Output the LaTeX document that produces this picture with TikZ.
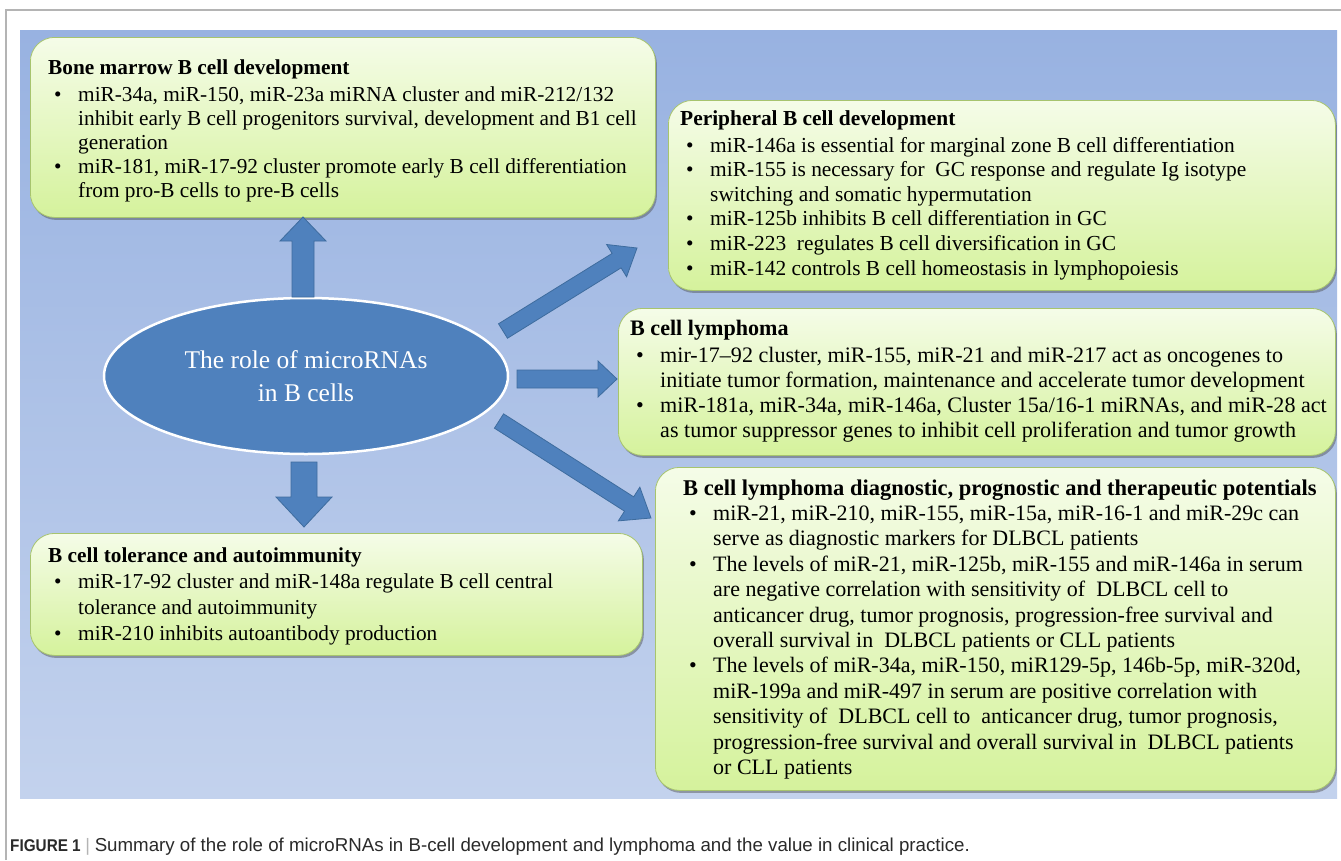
\documentclass[tikz,border=0pt]{standalone}
\usepackage{fontspec}
\setmainfont{Liberation Serif}
\newfontfamily\capfont[FakeStretch=0.9]{Liberation Sans}
\newfontfamily\capbody{Liberation Sans}
\usetikzlibrary{calc,shadows,shapes.geometric}
\definecolor{bgtop}{HTML}{98B2E1}
\definecolor{bgbot}{HTML}{C3D2ED}
\definecolor{ellfill}{HTML}{4F81BD}
\definecolor{arrfill}{HTML}{4F81BD}
\definecolor{arrdraw}{HTML}{3E6C9E}
\definecolor{boxtop}{HTML}{F5FCE8}
\definecolor{boxbot}{HTML}{D5F29C}
\definecolor{boxline}{HTML}{A7C46E}
\definecolor{frame}{HTML}{B4B4B4}
\definecolor{captext}{HTML}{2A2A2A}
\newcommand{\bitem}{\hspace*{6pt}\makebox[24pt][l]{\textbullet}}
\newcommand{\bcont}{\hspace*{30pt}}
\newcommand{\btitle}[1]{\textbf{#1}}
% block arrow: from, to, half shaft, half head, head length
\newcommand{\barrow}[5]{%
  \path ($(#2)!#5!(#1)$) coordinate (hb);
  \draw[blockarr] ($(#1)!#3!90:(#2)$) -- ($(hb)!#3!-90:(#1)$) -- ($(hb)!#4!-90:(#1)$)
    -- (#2) -- ($(hb)!#4!90:(#1)$) -- ($(hb)!#3!90:(#1)$) -- ($(#1)!#3!-90:(#2)$) -- cycle;
}
\begin{document}
\begin{tikzpicture}[x=1pt,y=-1pt,
  gbox/.style={rectangle, rounded corners=24pt, draw=boxline, line width=0.8pt,
    top color=boxtop, bottom color=boxbot, anchor=north west, inner sep=0,
    drop shadow={shadow xshift=1.5pt, shadow yshift=-2.5pt, opacity=0.45, fill=black!70}},
  txt/.style={anchor=base west, inner sep=0, align=left, text=black},
  blockarr/.style={fill=arrfill, draw=arrdraw, line width=0.8pt, line join=miter},
  ell/.style={ellipse, draw=white, line width=2.5pt, fill=ellfill, inner sep=0,
    text=white, align=center}]
\useasboundingbox (0,0) rectangle (1341,860);
\fill[white] (0,0) rectangle (1341,860);
% frame
\draw[frame, line width=2pt] (6,860) -- (6,10) -- (1341,10);
% background
\shade[top color=bgtop, bottom color=bgbot] (20,30) rectangle (1337,798);

% boxes
\node[gbox, minimum width=625pt, minimum height=180pt] (bm) at (30,37) {};
\node[gbox, minimum width=667pt, minimum height=190pt] (pe) at (668,100) {};
\node[gbox, minimum width=717pt, minimum height=147pt] (ly) at (618,308) {};
\node[gbox, minimum width=680pt, minimum height=323pt] (dg) at (655,467) {};
\node[gbox, minimum width=612pt, minimum height=122pt] (tl) at (30,533) {};

% texts
\node[txt] (bmt) at (48,74) {\parbox[t]{620pt}{\fontsize{21.3}{24}\selectfont
\btitle{Bone marrow B cell development}\\[3pt]
\bitem miR-34a, miR-150, miR-23a miRNA cluster and miR-212/132\\
\bcont inhibit early B cell progenitors survival, development and B1 cell\\
\bcont generation\\
\bitem miR-181, miR-17-92 cluster promote early B cell differentiation\\
\bcont from pro-B cells to pre-B cells}};

\node[txt] (pet) at (680,125) {\parbox[t]{650pt}{\fontsize{21.4}{24.6}\selectfont
\btitle{Peripheral B cell development}\\[2.5pt]
\bitem miR-146a is essential for marginal zone B cell differentiation\\
\bitem miR-155 is necessary for~ GC response and regulate Ig isotype\\
\bcont switching and somatic hypermutation\\
\bitem miR-125b inhibits B cell differentiation in GC\\
\bitem miR-223~ regulates B cell diversification in GC\\
\bitem miR-142 controls B cell homeostasis in lymphopoiesis}};

\node[txt] (lyt) at (630,335) {\parbox[t]{700pt}{\fontsize{22.1}{25}\selectfont
\btitle{B cell lymphoma}\\[2pt]
\bitem mir-17--92 cluster, miR-155, miR-21 and miR-217 act as oncogenes to\\
\bcont initiate tumor formation, maintenance and accelerate tumor development\\
\bitem miR-181a, miR-34a, miR-146a, Cluster 15a/16-1 miRNAs, and miR-28 act\\
\bcont as tumor suppressor genes to inhibit cell proliferation and tumor growth}};

\node[txt] (dgt) at (683,495) {\parbox[t]{650pt}{\fontsize{22}{25.4}\selectfont
\btitle{\fontsize{22.5}{25.4}\selectfont B cell lymphoma diagnostic, prognostic and therapeutic potentials}\\
\bitem miR-21, miR-210, miR-155, miR-15a, miR-16-1 and miR-29c can\\
\bcont serve as diagnostic markers for DLBCL patients\\
\bitem The levels of miR-21, miR-125b, miR-155 and miR-146a in serum\\
\bcont are negative correlation with sensitivity of~ DLBCL cell to\\
\bcont anticancer drug, tumor prognosis, progression-free survival and\\
\bcont overall survival in~ DLBCL patients or CLL patients\\
\bitem The levels of miR-34a, miR-150, miR129-5p, 146b-5p, miR-320d,\\
\bcont miR-199a and miR-497 in serum are positive correlation with\\
\bcont sensitivity of~ DLBCL cell to~ anticancer drug, tumor prognosis,\\
\bcont progression-free survival and overall survival in~ DLBCL patients\\
\bcont or CLL patients}};

\node[txt] (tlt) at (48,562) {\parbox[t]{600pt}{\fontsize{21.3}{26}\selectfont
\btitle{B cell tolerance and autoimmunity}\\
\bitem miR-17-92 cluster and miR-148a regulate B cell central\\
\bcont tolerance and autoimmunity\\
\bitem miR-210 inhibits autoantibody production}};

% central ellipse
\node[ell, minimum width=404pt, minimum height=156pt, font=\fontsize{25.5}{33}\selectfont] (ell) at (306,376)
  {The role of microRNAs\\in B cells};

% arrow end points
\coordinate (uA) at (303,297); \coordinate (uB) at (303,217);
\coordinate (dA) at (304,462); \coordinate (dB) at (304,527);
\coordinate (neA) at (503,331); \coordinate (neB) at (637,248);
\coordinate (eA) at (517,379); \coordinate (eB) at (617,379);
\coordinate (seA) at (499,421); \coordinate (seB) at (651,518);
\barrow{uA}{uB}{11pt}{23pt}{24pt}
\barrow{dA}{dB}{13pt}{28pt}{30pt}
\barrow{neA}{neB}{8.5pt}{19pt}{24pt}
\barrow{eA}{eB}{9pt}{18pt}{19pt}
\barrow{seA}{seB}{8.5pt}{20pt}{26pt}

% caption
\node[anchor=base west, inner sep=0, text=captext] (cap) at (10,851)
  {{\capfont\fontsize{17}{20}\selectfont\textbf{FIGURE 1}}\,{\color{frame}\capbody\fontsize{18}{20}\selectfont\,|\,}\,{\capbody\fontsize{18.7}{20}\selectfont Summary of the role of microRNAs in B-cell development and lymphoma and the value in clinical practice.}};
\end{tikzpicture}
\end{document}
